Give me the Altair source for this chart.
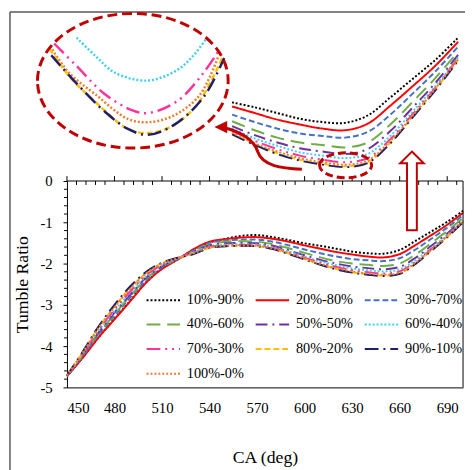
import altair as alt
import pandas as pd

FONT = "Liberation Serif"
DARKRED = "#C00000"

CA = [450, 460, 470, 480, 490, 500, 510, 520, 530, 540, 550, 560, 570,
      580, 590, 600, 610, 620, 630, 640, 650, 660, 670, 680, 690, 700]

SERIES = ["10%-90%", "20%-80%", "30%-70%", "40%-60%", "50%-50%",
          "60%-40%", "70%-30%", "80%-20%", "90%-10%", "100%-0%"]
COLORS = ["#000000", "#FF0000", "#4472C4", "#70AD47", "#7030A0",
          "#3FD0EE", "#FF3399", "#FFC000", "#1F1F6E", "#ED7D31"]
DASHES = [[2, 2], [1, 0], [6, 3], [14, 7], [12, 5, 2, 5],
          [2, 2], [14, 5, 2, 5, 2, 5], [6, 3], [14, 5, 2, 5], [2, 2]]

TR = {
    "10%-90%": [-4.73, -4.27, -3.78, -3.34, -2.90, -2.45, -2.12, -1.90, -1.66, -1.49, -1.40, -1.33, -1.31,
                -1.36, -1.43, -1.51, -1.57, -1.64, -1.71, -1.75, -1.76, -1.67, -1.45, -1.22, -0.99, -0.72],
    "20%-80%": [-4.73, -4.28, -3.79, -3.35, -2.91, -2.46, -2.13, -1.90, -1.65, -1.47, -1.41, -1.37, -1.36,
                -1.40, -1.47, -1.56, -1.64, -1.72, -1.78, -1.83, -1.85, -1.77, -1.55, -1.31, -1.06, -0.77],
    "30%-70%": [-4.73, -4.24, -3.72, -3.27, -2.82, -2.40, -2.09, -1.89, -1.68, -1.50, -1.44, -1.42, -1.42,
                -1.47, -1.56, -1.66, -1.75, -1.83, -1.89, -1.92, -1.94, -1.87, -1.66, -1.40, -1.13, -0.83],
    "40%-60%": [-4.72, -4.22, -3.69, -3.23, -2.78, -2.37, -2.07, -1.89, -1.70, -1.53, -1.47, -1.46, -1.47,
                -1.53, -1.63, -1.74, -1.85, -1.94, -2.00, -2.03, -2.06, -2.00, -1.78, -1.50, -1.21, -0.89],
    "50%-50%": [-4.72, -4.21, -3.67, -3.19, -2.75, -2.34, -2.06, -1.88, -1.71, -1.56, -1.51, -1.50, -1.51,
                -1.57, -1.68, -1.80, -1.91, -2.00, -2.07, -2.11, -2.14, -2.08, -1.86, -1.57, -1.27, -0.93],
    "60%-40%": [-4.72, -4.19, -3.63, -3.15, -2.70, -2.31, -2.04, -1.88, -1.72, -1.58, -1.54, -1.53, -1.54,
                -1.60, -1.71, -1.83, -1.95, -2.04, -2.12, -2.16, -2.19, -2.14, -1.92, -1.62, -1.31, -0.96],
    "70%-30%": [-4.72, -4.18, -3.61, -3.11, -2.67, -2.28, -2.03, -1.87, -1.73, -1.60, -1.56, -1.55, -1.56,
                -1.62, -1.73, -1.86, -1.98, -2.08, -2.16, -2.21, -2.24, -2.19, -1.96, -1.65, -1.33, -0.97],
    "80%-20%": [-4.71, -4.15, -3.55, -3.04, -2.59, -2.23, -1.99, -1.86, -1.76, -1.62, -1.58, -1.57, -1.58,
                -1.64, -1.76, -1.89, -2.02, -2.13, -2.21, -2.26, -2.29, -2.24, -2.00, -1.68, -1.35, -0.99],
    "90%-10%": [-4.71, -4.13, -3.52, -3.00, -2.55, -2.20, -1.98, -1.86, -1.77, -1.62, -1.58, -1.57, -1.58,
                -1.65, -1.77, -1.90, -2.03, -2.14, -2.22, -2.27, -2.30, -2.25, -2.01, -1.69, -1.36, -1.00],
    "100%-0%": [-4.71, -4.15, -3.56, -3.06, -2.61, -2.24, -2.00, -1.87, -1.75, -1.61, -1.57, -1.56, -1.57,
                -1.63, -1.75, -1.88, -2.01, -2.11, -2.19, -2.24, -2.27, -2.22, -1.98, -1.67, -1.34, -0.98],
}

# magnified view of the minimum (inside the big dashed ellipse)
ZOOM = {
    "60%-40%": ([640.4, 643.7, 647.1, 652.7, 657.8, 660.7, 662.9],
                [-2.085, -2.126, -2.163, -2.180, -2.157, -2.124, -2.087]),
    "70%-30%": ([636.5, 640.4, 645.2, 650.1, 652.7, 657.8, 662.4, 665.0],
                [-2.098, -2.148, -2.209, -2.246, -2.252, -2.226, -2.163, -2.115]),
    "100%-0%": ([635.8, 639.1, 643.7, 649.3, 653.0, 657.3, 661.7, 665.0],
                [-2.104, -2.163, -2.211, -2.265, -2.272, -2.257, -2.213, -2.126]),
    "80%-20%": ([635.7, 639.1, 643.7, 649.3, 652.7, 656.6, 661.2, 665.8],
                [-2.109, -2.170, -2.228, -2.287, -2.296, -2.283, -2.235, -2.126]),
    "90%-10%": ([636.0, 640.3, 645.4, 649.3, 652.7, 657.3, 662.4, 666.0],
                [-2.124, -2.185, -2.250, -2.287, -2.300, -2.278, -2.217, -2.130]),
}

X_MAJOR = [450, 480, 510, 540, 570, 600, 630, 660, 690]
X_MINOR = [v for v in range(456, 700, 6) if (v - 450) % 30 != 0]
Y_MAJOR = [-5, -4, -3, -2, -1, 0]
Y_MINOR = [round(-5 + 0.2 * i, 1) for i in range(1, 25) if i % 5 != 0]

W, H = 403, 210
INTERP = "catmull-rom"

df = pd.DataFrame([{"ca": c, "tr": v, "s": s} for s in SERIES for c, v in zip(CA, TR[s])])
zdf = pd.DataFrame([{"ca": c, "tr": v, "s": s} for s, (xs, ys) in ZOOM.items() for c, v in zip(xs, ys)])
one = pd.DataFrame({"k": [0]})

legend = alt.Legend(title=None, orient="none", legendX=80, legendY=103, columns=3,
                    direction="horizontal",
                    symbolType="stroke", symbolSize=1156, symbolStrokeWidth=2,
                    labelFont=FONT, labelFontSize=14.5, labelColor="black",
                    columnPadding=8, rowPadding=-7, labelOffset=6, padding=0)
color = alt.Color("s:N", scale=alt.Scale(domain=SERIES, range=COLORS), legend=legend)
dash = alt.StrokeDash("s:N", scale=alt.Scale(domain=SERIES, range=DASHES), legend=legend)
color_nl = alt.Color("s:N", scale=alt.Scale(domain=SERIES, range=COLORS), legend=None)
dash_nl = alt.StrokeDash("s:N", scale=alt.Scale(domain=SERIES, range=DASHES), legend=None)

xs = alt.Scale(domain=[450, 700], nice=False)
ys = alt.Scale(domain=[-5, 0], nice=False)

main_lines = alt.Chart(df).mark_line(strokeWidth=2, interpolate=INTERP).encode(
    x=alt.X("ca:Q", scale=xs, axis=alt.Axis(
        values=X_MAJOR, title="CA (deg)", ticks=False, grid=False, domainColor="black",
        labelFont=FONT, labelFontSize=15, labelColor="black", labelPadding=14,
        titleFont=FONT, titleFontSize=18, titleFontWeight="normal", titleColor="black",
        titlePadding=33)),
    y=alt.Y("tr:Q", scale=ys, axis=alt.Axis(
        values=Y_MAJOR, title="Tumble Ratio", tickSize=4, tickColor="black", grid=False,
        domainColor="black", labelFont=FONT, labelFontSize=15, labelColor="black",
        labelPadding=11, labelExpr="datum.value < 0 ? '-' + (-datum.value) : '' + datum.value",
        titleFont=FONT, titleFontSize=18, titleFontWeight="normal", titleColor="black",
        titlePadding=9)),
    color=color, strokeDash=dash, detail="s:N",
)

xmin_df = pd.DataFrame({"ca": X_MINOR})
xmaj_df = pd.DataFrame({"ca": X_MAJOR})
ymin_df = pd.DataFrame({"tr": Y_MINOR})

top_line = alt.Chart(one).mark_rule(color="black", strokeWidth=1).encode(
    x=alt.value(0), x2=alt.value(W), y=alt.value(0))
right_line = alt.Chart(one).mark_rule(color="black", strokeWidth=1).encode(
    x=alt.value(W), y=alt.value(0), y2=alt.value(H))
top_minor = alt.Chart(xmin_df).mark_rule(color="black", strokeWidth=1).encode(
    x=alt.X("ca:Q", scale=xs), y=alt.value(0), y2=alt.value(4))
top_major = alt.Chart(xmaj_df).mark_rule(color="black", strokeWidth=1).encode(
    x=alt.X("ca:Q", scale=xs), y=alt.value(-5), y2=alt.value(0))
y_minor = alt.Chart(ymin_df).mark_rule(color="black", strokeWidth=1).encode(
    y=alt.Y("tr:Q", scale=ys), x=alt.value(-3), x2=alt.value(0))

main_group = alt.layer(main_lines, top_line, right_line, top_minor, top_major, y_minor)

inset = alt.Chart(df).transform_filter("datum.ca >= 600").mark_line(
    strokeWidth=2, interpolate=INTERP).encode(
    x=alt.X("ca:Q", scale=alt.Scale(domain=[600, 700], range=[168, 398], nice=False), axis=None),
    y=alt.Y("tr:Q", scale=alt.Scale(domain=[-2.29, -0.73], range=[-15, -145], nice=False, zero=False), axis=None),
    color=color_nl, strokeDash=dash_nl, detail="s:N",
)

zoom = alt.Chart(zdf).mark_line(strokeWidth=2.5, interpolate=INTERP).encode(
    x=alt.X("ca:Q", scale=alt.Scale(domain=[636, 666], range=[-16, 160], nice=False, zero=False), axis=None),
    y=alt.Y("tr:Q", scale=alt.Scale(domain=[-2.30, -2.00], range=[-47, -185], nice=False, zero=False), axis=None),
    color=color_nl, strokeDash=dash_nl, detail="s:N",
)

frame_left = alt.Chart(one).mark_rule(color="#595959", strokeWidth=1.5).encode(
    x=alt.value(-58), y=alt.value(-172), y2=alt.value(300))
frame_top = alt.Chart(one).mark_rule(color="#595959", strokeWidth=1.5).encode(
    x=alt.value(-58), x2=alt.value(420), y=alt.value(-172))

big_ellipse = alt.Chart(one).mark_point(
    shape="M -1 0 A 1 0.706 0 1 1 1 0 A 1 0.706 0 1 1 -1 0 Z", size=194 * 194,
    filled=False, stroke=DARKRED, strokeWidth=3, strokeDash=[10, 5], opacity=1).encode(
    x=alt.value(67), y=alt.value(-102))
small_ellipse = alt.Chart(one).mark_point(
    shape="M -1 0 A 1 0.48 0 1 1 1 0 A 1 0.48 0 1 1 -1 0 Z", size=53 * 53,
    filled=False, stroke=DARKRED, strokeWidth=3, strokeDash=[8, 4], opacity=1).encode(
    x=alt.value(283.5), y=alt.value(-16))
curve_arrow = alt.Chart(one).mark_point(
    shape="M 0.9 0.42 C 0.5 0.4 0.1 0.36 0 0.06 C -0.08 -0.2 -0.4 -0.36 -0.66 -0.42",
    size=10000, filled=False, stroke=DARKRED, strokeWidth=3, opacity=1).encode(
    x=alt.value(194), y=alt.value(-33))
arrow_head = alt.Chart(one).mark_point(
    shape="M -0.88 -0.44 L -0.62 -0.56 L -0.62 -0.31 Z",
    size=10000, filled=True, fill=DARKRED, strokeWidth=0, opacity=1).encode(
    x=alt.value(194), y=alt.value(-33))
up_arrow = alt.Chart(one).mark_point(
    shape="M 0 -1 L 0.3 -0.7 L 0.125 -0.7 L 0.125 1 L -0.125 1 L -0.125 -0.7 L -0.3 -0.7 Z",
    size=6400, filled=True, fill="white", stroke=DARKRED, strokeWidth=2, opacity=1).encode(
    x=alt.value(351), y=alt.value(10))

chart = alt.layer(
    frame_left, frame_top, main_group, inset, zoom,
    big_ellipse, small_ellipse, curve_arrow, arrow_head, up_arrow,
).resolve_scale(x="independent", y="independent").properties(
    width=W, height=H,
    autosize=alt.AutoSizeParams(type="none"),
    padding={"left": 60, "top": 172, "right": 2, "bottom": 80},
    background="white",
).configure_view(stroke=None)

chart.save("out.html", embed_options={"renderer": "svg", "actions": False})
